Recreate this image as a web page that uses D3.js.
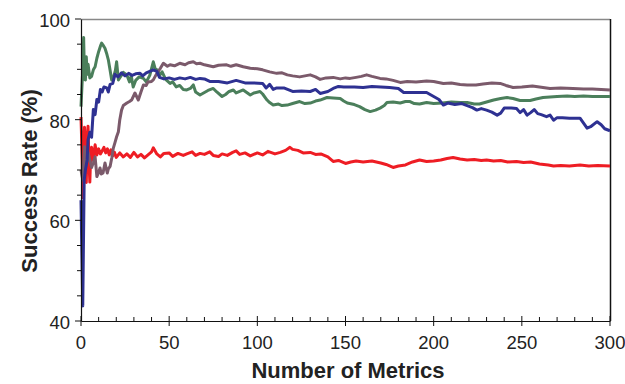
<!DOCTYPE html>
<html><head><meta charset="utf-8">
<script src="https://cdn.jsdelivr.net/npm/d3@7"></script>
<style>body{margin:0;background:#fff}svg{display:block}</style>
</head><body><svg id="c" width="625" height="384"></svg>
<script>
const xTicks = [0,50,100,150,200,250,300];
const yTicks = [40,60,80,100];
const xLabel = "Number of Metrics";
const yLabel = "Success Rate (%)";

const greenSeries = [[0,82.6],[1,90],[1.5,96.3],[2,88],[2.5,87.9],[3,92.5],[3.5,89],[4,91],[5,88.3],[6,88.6],[7,89.9],[8,90.5],[9,92.2],[10,93.5],[11,94.6],[11.7,95.2],[12.5,94.8],[13.6,94.2],[14.5,93.2],[15.5,91.9],[16.5,89.8],[17.4,87.9],[18.5,88.5],[19.5,89.8],[20.2,91.5],[21.2,87.9],[22.5,88.6],[24,89.4],[26,88.9],[27.5,87.5],[28.5,88.7],[29.6,86.5],[31,87.8],[33,88.5],[35.4,88.2],[37,87.5],[39,88.8],[41,91.5],[42,90.2],[43.5,89.8],[44.8,88.9],[46,89.5],[48,88.0],[50.5,87.2],[52,87.5],[54,86.5],[56,86.8],[58,86.0],[60,85.9],[62,86.2],[63.7,86.9],[65,85.5],[67.5,84.9],[70,85.4],[72,85.8],[75,86.2],[77,85.5],[80,84.6],[82,85.0],[84,85.6],[86.4,85.9],[88,85.3],[90,85.6],[92,85.9],[94,85.4],[96,84.9],[98,85.3],[101.5,85.6],[103,85.1],[105.5,83.9],[107,83.4],[109,82.9],[112,83.1],[114,82.8],[117,82.9],[120,83.2],[124,83.6],[127,83.2],[130,83.3],[133,83.7],[135.6,83.9],[139.5,84.4],[143,84.3],[147,84.2],[149,83.7],[151,83.3],[155,83.0],[158,82.6],[161,82.0],[164,81.6],[167,81.9],[169.6,82.3],[172,82.8],[173.5,83.4],[177,83.5],[181,83.3],[184,83.6],[186.6,83.6],[189,83.2],[192,83.1],[196,83.4],[200,83.2],[205,83.3],[210,83.5],[215,83.4],[219,83.4],[223,83.1],[226,83.1],[230,83.5],[234,83.9],[238,84.2],[241.6,84.4],[245,84.2],[249,83.8],[254.7,83.8],[258,84.1],[262,84.4],[266,84.5],[270,84.6],[275.7,84.7],[280,84.6],[285,84.7],[290,84.6],[295,84.6],[300,84.6]];

const redSeries = [[0,80.5],[0.7,72],[1,64.5],[1.5,72],[2,78.5],[2.5,74],[3,67.5],[3.5,76],[4,78.7],[4.5,72],[5,67.6],[5.5,73],[6,74.5],[7,72],[8,75],[9,73],[10,74.2],[11,73.2],[12,73.8],[13,74.5],[14,73.4],[15,74.2],[16,73],[17,74],[18,72.8],[19,73.5],[20,72.5],[22,73.4],[24,72.6],[26,73.2],[28,72.5],[30,73.5],[32,72.6],[34,73.1],[36,72.4],[38,73],[40,73.6],[41,74.4],[43,73.2],[45,72.6],[47,73.3],[50,73.4],[52,72.7],[55,73.3],[58,72.9],[60,73.2],[63,73.6],[65,72.9],[67.5,73.3],[70,73.1],[73,73.6],[75,72.9],[78,72.7],[80,73.2],[83,72.9],[86,73.5],[88,73.8],[90,73.1],[93,73.4],[96,72.8],[100,73.4],[103,73.0],[106,73.7],[110,73.2],[113,73.5],[116,73.9],[118.5,74.5],[120,74.1],[123,73.9],[126,73.4],[130,73.5],[133,73.1],[136,73.2],[140,72.6],[143,71.7],[146,71.9],[150,71.3],[153,71.6],[156,71.8],[160,71.6],[165,71.8],[170,71.4],[173,71.1],[177,70.5],[180,70.8],[184,71.0],[188,71.6],[192,72.0],[196,71.7],[200,71.8],[204,72.0],[207.6,72.3],[211,72.5],[215,72.2],[219,72.0],[223,72.1],[227,71.9],[230,72.0],[234,71.8],[238,71.9],[242,71.6],[247,71.7],[251,71.5],[255,71.6],[260,71.2],[265,71.0],[268,70.8],[272,70.9],[277,70.8],[283,71.0],[288,70.8],[293,70.9],[300,70.8]];

const purpleSeries = [[0,70],[1,68],[2,74.6],[3,71],[4,73.5],[5,72],[6,70.5],[7,71.5],[8,72.6],[9,68.7],[10,69.5],[10.8,70.4],[11.5,69.2],[12.5,69.4],[13.6,71.4],[14.9,69.4],[15.5,70.2],[16.5,70.7],[17.5,72.5],[18.3,74.3],[19.3,75.5],[20.2,76.6],[21.2,77.6],[22,80],[23,81.9],[24,82.8],[26,83.3],[27.5,83.6],[28.7,83.9],[30.6,85.3],[32.5,83.9],[34,85.5],[35.4,86.9],[37,86.8],[38,87.5],[40,87.6],[41,87.9],[43,89.2],[45,90.2],[46.7,91.2],[49,90.6],[50.5,90.9],[53,90.7],[56,91.2],[59,90.9],[61,91.3],[63.7,91.5],[65.5,91.1],[67.5,91.2],[70,90.9],[75,90.5],[78,90.8],[82.6,90.9],[85,90.6],[88,90.9],[92,90.5],[96,90.2],[100,90.1],[103,89.9],[107,89.5],[111,89.2],[114,89.3],[117,88.9],[120,88.7],[124,88.5],[127,88.7],[130,88.9],[133,88.5],[135.6,88.0],[139,88.3],[143,88.4],[147,88.1],[150,88.3],[152.6,88.2],[156,88.4],[159,88.6],[162,88.9],[165,88.6],[169.6,88.2],[173,88.1],[177,87.8],[181,87.4],[185,87.6],[190,87.5],[196,87.7],[200,87.6],[205.5,87.2],[210,87.3],[215,87.0],[219,86.9],[224,86.9],[228,87.1],[233,87.3],[237.7,87.2],[241,86.8],[245,86.4],[250,86.5],[256,86.7],[260,86.5],[266,86.2],[272,86.3],[279,86.2],[285,86.1],[290,86.1],[295,86.0],[300,85.9]];

const blueSeries = [[0,64],[1,43],[1.8,68],[2.5,70],[3.5,72],[4,76],[5,77.5],[6,76.5],[7,82],[8,81],[9,84],[10,83.5],[11,86],[12,85.5],[13,86.5],[14.6,86.3],[15.5,85.5],[16.5,87],[18,87.2],[19.3,89],[21,88.5],[23,89.3],[25,88.7],[27,89.2],[29,88.8],[31,89.1],[33.5,89.2],[35,88.7],[37,89.3],[39,89.6],[41,89.9],[43,89.6],[44.5,88.4],[47,88.1],[50,88.3],[53,88.0],[56,88.3],[59,88.1],[62,88.4],[65,88.0],[67.5,88.2],[70,88.1],[73,87.6],[78,87.6],[83,87.3],[88,87.8],[93,87.3],[98,87.3],[103,87.2],[105,86.3],[107,87.0],[109,86.0],[111,86.3],[115,86.3],[120,85.6],[125,85.7],[130,85.6],[133,86.0],[135.6,85.2],[140,85.6],[143,86.2],[146,86.6],[149,86.5],[155,86.5],[160,86.4],[165,86.6],[170,86.5],[175,86.4],[180,86.2],[183,85.4],[190,85.4],[196,85.4],[200,84.6],[203,84.0],[205.5,82.9],[208,83.3],[212,83.0],[216,83.2],[219,82.8],[222,82.4],[224.5,81.9],[227,82.2],[230,81.9],[233,81.5],[236,80.9],[238,81.3],[240,82.3],[244,82.3],[247,82.2],[249,81.4],[251,82.0],[253,80.9],[255,81.4],[257,82.0],[259,81.2],[261,81.0],[264,80.6],[266,80.9],[268,79.9],[270,80.4],[273,80.4],[277,80.3],[283,80.3],[285,79.3],[287,78.3],[289,78.6],[292.7,79.6],[295,79.0],[297,78.2],[300,77.8]];

const series = [
  {data: greenSeries, color: "#4b7f5b"},
  {data: redSeries, color: "#ee1d24"},
  {data: purpleSeries, color: "#7b5a6b"},
  {data: blueSeries, color: "#2e3192"}
];

const svg = d3.select("#c");
const m = {l:81, r:610, t:19, b:321};
const x = d3.scaleLinear().domain([0,300]).range([m.l, m.r]);
const y = d3.scaleLinear().domain([40,100]).range([m.b, m.t]);
const font = "'Liberation Sans', Arial, sans-serif";

// frame top/right
svg.append("line").attr("x1",m.l).attr("x2",m.r).attr("y1",m.t+0.5).attr("y2",m.t+0.5).attr("stroke","#888").attr("stroke-width",1.5);
svg.append("line").attr("x1",m.r+0.5).attr("x2",m.r+0.5).attr("y1",m.t).attr("y2",m.b).attr("stroke","#111").attr("stroke-width",1.5);

const line = d3.line().x(d=>x(d[0])).y(d=>y(d[1]));
const plot = svg.append("g");
series.forEach(s=>{
  plot.append("path").datum(s.data).attr("d",line).attr("fill","none")
    .attr("stroke",s.color).attr("stroke-width",3).attr("stroke-linejoin","round");
});

// x axis
const gx = svg.append("g").attr("transform",`translate(0,${m.b})`);
gx.call(d3.axisBottom(x).tickValues(d3.range(0,301,10)).tickSize(0).tickFormat(""));
gx.select(".domain").attr("stroke","#111").attr("stroke-width",1.2);
d3.range(0,301,10).forEach(v=>{
  const major = v%50===0;
  gx.append("line").attr("x1",x(v)).attr("x2",x(v)).attr("y1",major?-5:-4).attr("y2",major?5:0).attr("stroke","#111").attr("stroke-width",1);
});
xTicks.forEach(v=>{
  gx.append("text").attr("x",x(v)).attr("y",28).attr("text-anchor","middle")
    .attr("font-family",font).attr("font-size",18.5).attr("fill","#222").text(v);
});

// y axis
const gy = svg.append("g").attr("transform",`translate(${m.l},0)`);
gy.call(d3.axisLeft(y).tickValues(d3.range(40,101,5)).tickSize(0).tickFormat(""));
gy.select(".domain").attr("stroke","#111").attr("stroke-width",1.2);
d3.range(40,101,5).forEach(v=>{
  const major = v%20===0;
  gy.append("line").attr("x1",major?-6:-4).attr("x2",0).attr("y1",y(v)).attr("y2",y(v)).attr("stroke","#111").attr("stroke-width",1);
});
yTicks.forEach(v=>{
  gy.append("text").attr("x",-11).attr("y",y(v)+1.5).attr("dy","0.35em").attr("text-anchor","end")
    .attr("font-family",font).attr("font-size",18.5).attr("fill","#222").text(v);
});

svg.append("text").attr("x",348).attr("y",378).attr("text-anchor","middle")
  .attr("font-family",font).attr("font-size",22).attr("font-weight","bold").attr("fill","#222").text(xLabel);
svg.append("text").attr("transform",`translate(37,181) rotate(-90)`).attr("text-anchor","middle")
  .attr("font-family",font).attr("font-size",22).attr("font-weight","bold").attr("fill","#222").text(yLabel);
</script></body></html>
